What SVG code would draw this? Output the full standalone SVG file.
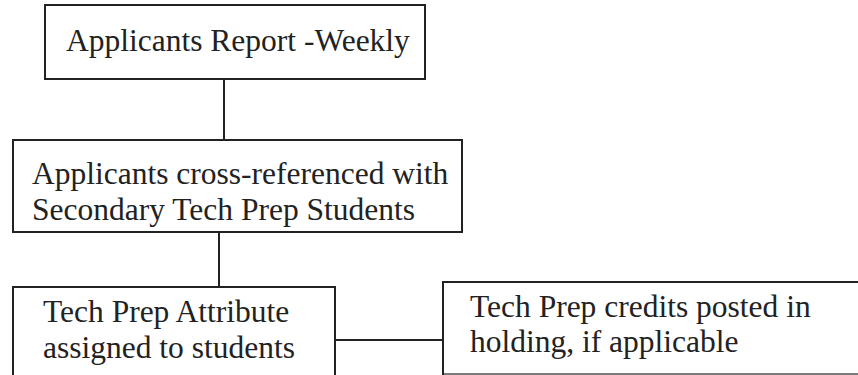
<svg xmlns="http://www.w3.org/2000/svg" width="858" height="375" viewBox="0 0 858 375">
<style>
.box{fill:#fff;stroke:#222;stroke-width:2}
.t{font-family:"Liberation Serif","Times New Roman",serif;font-size:31.5px;fill:#222}
.c{stroke:#222;stroke-width:2;fill:none}
</style>
<rect width="858" height="375" fill="#fff"/>
<g id="connectors">
<line class="c" x1="224" y1="79" x2="224" y2="140"/>
<line class="c" x1="219" y1="232" x2="219" y2="287"/>
<line class="c" x1="335" y1="340" x2="443" y2="340"/>
</g>
<g id="n1">
<rect class="box" x="45" y="5" width="380" height="74"/>
<text class="t" x="66" y="51">Applicants Report -Weekly</text>
</g>
<g id="n2">
<rect class="box" x="13" y="140" width="449" height="92"/>
<text class="t" x="32" y="184">Applicants cross-referenced with</text>
<text class="t" x="32" y="220">Secondary Tech Prep Students</text>
</g>
<g id="n3">
<rect class="box" x="13" y="287" width="322" height="110"/>
<text class="t" x="43" y="322">Tech Prep Attribute</text>
<text class="t" x="43" y="358">assigned to students</text>
</g>
<g id="n4">
<path d="M870 282 H443 V374 H870" fill="#fff" stroke="#222" stroke-width="2"/>
<line x1="444" y1="374" x2="858" y2="374" stroke="#999" stroke-width="1.5"/>
<text class="t" x="470" y="317">Tech Prep credits posted in</text>
<text class="t" x="470" y="352">holding, if applicable</text>
</g>
</svg>
